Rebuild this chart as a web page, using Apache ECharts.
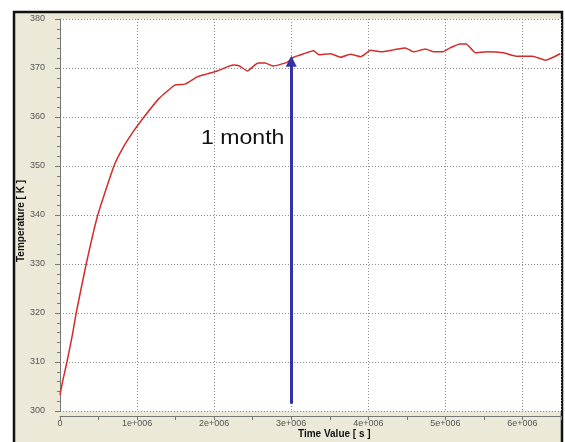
<!DOCTYPE html>
<html>
<head>
<meta charset="utf-8">
<script src="https://cdn.jsdelivr.net/npm/echarts@6/dist/echarts.min.js"></script>
<style>
  html, body { margin: 0; padding: 0; background: #ffffff; }
  #chart { width: 565px; height: 442px; }
</style>
</head>
<body>
<div id="chart"></div>
<script>
// Elapsed time [s]
var timeValues = [
  0, 0.04e6, 0.09e6, 0.16e6, 0.21e6, 0.34e6, 0.49e6, 0.70e6, 0.82e6, 0.95e6, 1.08e6, 1.28e6, 1.49e6,
  1.62e6, 1.78e6, 1.91e6, 2.04e6, 2.25e6, 2.33e6, 2.43e6, 2.57e6, 2.66e6, 2.77e6,
  2.95e6, 3.03e6, 3.16e6, 3.29e6, 3.36e6, 3.51e6, 3.64e6, 3.77e6, 3.90e6, 4.03e6,
  4.16e6, 4.33e6, 4.48e6, 4.59e6, 4.74e6, 4.85e6, 4.96e6, 5.06e6, 5.19e6, 5.27e6,
  5.39e6, 5.54e6, 5.75e6, 5.93e6, 6.13e6, 6.30e6, 6.49e6
];
// Temperature [K]
var temperatures = [
  303.3, 306.5, 310, 315.5, 320, 330, 340, 350, 353.8, 357, 359.8, 363.7, 366.5,
  366.7, 368.2, 368.8, 369.4, 370.6, 370.4, 369.4, 371.0, 371.0, 370.4,
  371.2, 372.2, 372.9, 373.5, 372.7, 372.9, 372.2, 372.8, 372.3, 373.6,
  373.3, 373.7, 374.1, 373.3, 373.9, 373.3, 373.3, 374.1, 374.9, 374.9,
  373.1, 373.3, 373.1, 372.4, 372.4, 371.6, 372.9
];
// Annotation arrow: time and its start / end temperatures
var arrowTime = 3.0e6;
var arrowFrom = 301.5;
var arrowTo = 371.4;
var arrowText = '1 month';

var xTitle = 'Time Value [ s ]';
var yTitle = 'Temperature [ K ]';

var pairs = timeValues.map(function (t, i) { return [t, temperatures[i]]; });

var chart = echarts.init(document.getElementById('chart'), null, { renderer: 'canvas' });

var gridLine = { show: true, lineStyle: { color: '#8c8c8c', width: 1, type: [1, 2] } };
var tickFont = { fontFamily: 'Liberation Sans, Arial, sans-serif', fontSize: 9, color: '#555555' };

chart.setOption({
  animation: false,
  backgroundColor: '#ffffff',
  graphic: [
    // window panel with dark frame
    { type: 'rect', z: -10, shape: { x: 14, y: 12, width: 548, height: 440 },
      style: { fill: '#ece9d8', stroke: '#111111', lineWidth: 2.5 } },
    { type: 'text', z: 10, left: 298, top: 429,
      style: { text: xTitle, font: 'bold 10px "Liberation Sans", Arial, sans-serif', fill: '#111111' } },
    { type: 'text', z: 10, x: 16, y: 262, rotation: Math.PI / 2,
      style: { text: yTitle, font: 'bold 10px "Liberation Sans", Arial, sans-serif', fill: '#111111' } },
    { type: 'text', z: 10, x: 201, y: 128, scaleX: 1.1,
      style: { text: arrowText, font: '21px "Liberation Sans", Arial, sans-serif', fill: '#111111' } }
  ],
  grid: {
    left: 60, right: 4, top: 19, bottom: 31,
    show: true, backgroundColor: '#ffffff', borderWidth: 0
  },
  xAxis: {
    type: 'value', min: 0, max: 6.5e6, interval: 1e6, offset: 5,
    axisLine: { show: true, lineStyle: { color: '#777777', width: 1 } },
    axisTick: { show: true, length: 4, lineStyle: { color: '#777777' } },
    minorTick: { show: true, splitNumber: 2, length: 4, lineStyle: { color: '#777777' } },
    splitLine: gridLine,
    axisLabel: Object.assign({
      margin: 3, showMaxLabel: false,
      formatter: function (v) {
        if (v === 0) return '0';
        if (v % 1e6 !== 0) return '';
        return (v / 1e6) + 'e+006';
      }
    }, tickFont)
  },
  yAxis: {
    type: 'value', min: 300, max: 380, interval: 10, offset: 7,
    axisLine: { show: true, lineStyle: { color: '#777777', width: 1 } },
    axisTick: { show: true, length: 5, lineStyle: { color: '#777777' } },
    minorTick: { show: true, splitNumber: 5, length: 3, lineStyle: { color: '#777777' } },
    splitLine: gridLine,
    axisLabel: Object.assign({ margin: 8 }, tickFont)
  },
  series: [
    {
      type: 'line',
      data: pairs,
      showSymbol: false,
      symbol: 'none',
      smooth: 0.15,
      lineStyle: { color: '#d22c2c', width: 1.5 },
      markLine: {
        silent: true,
        symbol: ['none', 'triangle'],
        symbolSize: 11,
        label: { show: false },
        lineStyle: { color: '#3333a6', width: 3, type: 'solid' },
        data: [[
          { coord: [arrowTime, arrowFrom] },
          { coord: [arrowTime, arrowTo] }
        ]]
      }
    }
  ]
});
</script>
</body>
</html>
